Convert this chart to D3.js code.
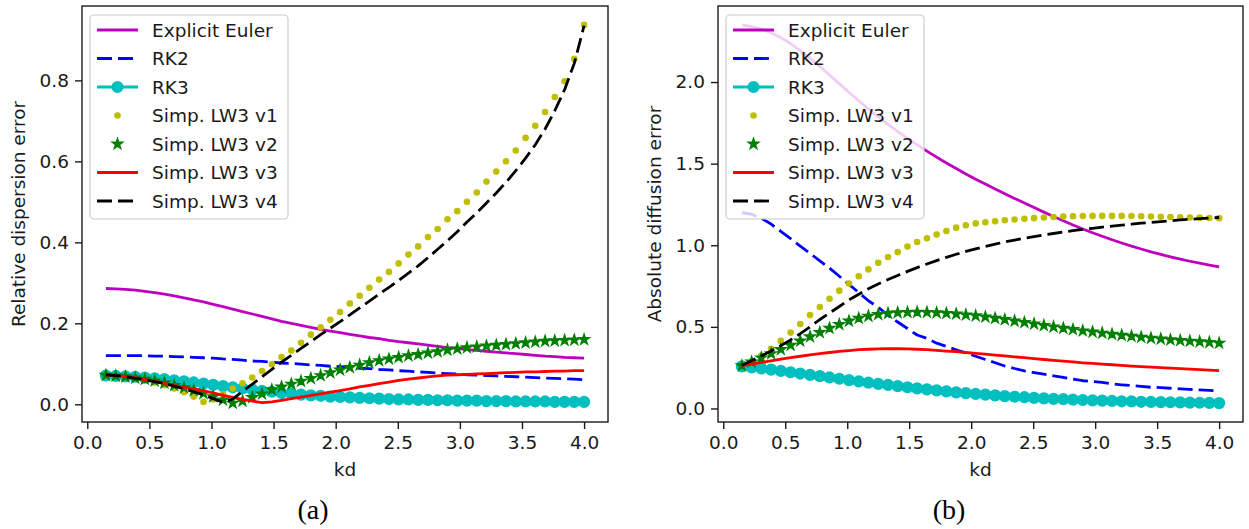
<!DOCTYPE html>
<html><head><meta charset="utf-8">
<script src="https://cdn.jsdelivr.net/npm/d3@7"></script>
<style>
body{margin:0;background:#fff}
svg{display:block}
text{font-family:"DejaVu Sans",sans-serif;}
</style>
</head><body>
<svg id="chart" width="1249" height="529"></svg>
<script>
// ---------------- DATA ----------------
const kd = [0.150,0.229,0.307,0.386,0.464,0.543,0.621,0.700,0.779,0.857,0.936,1.014,1.093,1.171,1.250,1.329,1.407,1.486,1.564,1.643,1.721,1.800,1.879,1.957,2.036,2.114,2.193,2.271,2.350,2.429,2.507,2.586,2.664,2.743,2.821,2.900,2.979,3.057,3.136,3.214,3.293,3.371,3.450,3.529,3.607,3.686,3.764,3.843,3.921,4.000];

const seriesNames = ["Explicit Euler","RK2","RK3","Simp. LW3 v1","Simp. LW3 v2","Simp. LW3 v3","Simp. LW3 v4"];

// (a) relative dispersion error
const eulerDisp = [0.286,0.285,0.284,0.282,0.279,0.276,0.272,0.268,0.263,0.258,0.253,0.247,0.241,0.235,0.229,0.223,0.217,0.211,0.205,0.200,0.195,0.190,0.185,0.181,0.177,0.173,0.169,0.165,0.162,0.158,0.155,0.152,0.149,0.146,0.143,0.140,0.138,0.135,0.133,0.131,0.129,0.127,0.125,0.123,0.121,0.119,0.118,0.116,0.115,0.114];
const rk2Disp = [0.120,0.120,0.120,0.120,0.120,0.119,0.119,0.118,0.117,0.116,0.115,0.114,0.112,0.111,0.109,0.107,0.106,0.104,0.102,0.101,0.099,0.097,0.096,0.094,0.093,0.091,0.089,0.088,0.086,0.085,0.083,0.082,0.080,0.079,0.077,0.076,0.075,0.073,0.072,0.071,0.070,0.069,0.068,0.067,0.066,0.065,0.064,0.063,0.062,0.061];
const rk3Disp = [0.071,0.070,0.069,0.068,0.066,0.064,0.062,0.059,0.057,0.054,0.051,0.048,0.045,0.042,0.039,0.036,0.033,0.031,0.028,0.026,0.024,0.022,0.021,0.019,0.018,0.017,0.016,0.015,0.014,0.013,0.012,0.012,0.011,0.011,0.010,0.010,0.009,0.009,0.009,0.008,0.008,0.008,0.007,0.007,0.007,0.007,0.006,0.006,0.006,0.006];
const v1Disp = [0.072,0.070,0.067,0.063,0.059,0.054,0.047,0.039,0.030,0.019,0.006,0.012,0.025,0.039,0.052,0.066,0.082,0.099,0.117,0.133,0.152,0.172,0.190,0.209,0.228,0.249,0.268,0.288,0.308,0.327,0.348,0.370,0.390,0.413,0.433,0.457,0.477,0.500,0.523,0.550,0.575,0.600,0.627,0.658,0.688,0.722,0.759,0.798,0.853,0.937];
const v2Disp = [0.072,0.070,0.068,0.065,0.062,0.058,0.053,0.047,0.041,0.034,0.027,0.019,0.011,0.003,0.008,0.017,0.026,0.036,0.043,0.050,0.057,0.064,0.071,0.078,0.085,0.091,0.097,0.103,0.108,0.112,0.116,0.120,0.123,0.127,0.130,0.134,0.137,0.140,0.142,0.144,0.146,0.148,0.150,0.152,0.154,0.156,0.157,0.158,0.159,0.160];
const v3Disp = [0.072,0.071,0.069,0.066,0.061,0.057,0.052,0.047,0.042,0.038,0.033,0.028,0.022,0.017,0.012,0.008,0.004,0.006,0.010,0.014,0.018,0.022,0.026,0.030,0.034,0.038,0.043,0.047,0.051,0.055,0.059,0.062,0.065,0.068,0.070,0.072,0.073,0.074,0.075,0.076,0.077,0.078,0.079,0.080,0.080,0.081,0.082,0.082,0.083,0.083];
const v4Disp = [0.073,0.071,0.068,0.064,0.060,0.056,0.051,0.045,0.038,0.031,0.023,0.014,0.005,0.013,0.032,0.050,0.068,0.086,0.104,0.121,0.138,0.155,0.172,0.188,0.204,0.221,0.238,0.255,0.272,0.289,0.306,0.324,0.342,0.362,0.383,0.404,0.426,0.450,0.473,0.497,0.522,0.548,0.577,0.608,0.641,0.680,0.725,0.777,0.842,0.935];

// (b) absolute diffusion error
const eulerDiff = [2.350,2.340,2.325,2.302,2.272,2.235,2.192,2.145,2.095,2.043,1.990,1.937,1.885,1.835,1.787,1.741,1.697,1.655,1.615,1.577,1.540,1.504,1.470,1.437,1.405,1.375,1.345,1.316,1.287,1.259,1.231,1.203,1.176,1.150,1.124,1.100,1.077,1.055,1.034,1.014,0.995,0.977,0.960,0.944,0.929,0.915,0.902,0.890,0.879,0.868];
const rk2Diff = [1.20,1.19,1.165,1.13,1.085,1.04,0.995,0.95,0.905,0.86,0.81,0.76,0.71,0.66,0.62,0.57,0.53,0.49,0.45,0.43,0.40,0.38,0.36,0.34,0.32,0.30,0.28,0.26,0.245,0.23,0.22,0.21,0.20,0.19,0.18,0.17,0.165,0.16,0.15,0.145,0.14,0.135,0.13,0.128,0.124,0.12,0.117,0.114,0.111,0.108];
const rk3Diff = [0.258,0.252,0.245,0.238,0.230,0.222,0.214,0.206,0.198,0.190,0.182,0.174,0.166,0.158,0.151,0.144,0.137,0.130,0.123,0.117,0.111,0.105,0.099,0.094,0.089,0.085,0.080,0.076,0.072,0.069,0.065,0.062,0.059,0.057,0.054,0.052,0.050,0.048,0.046,0.044,0.043,0.041,0.040,0.039,0.038,0.037,0.036,0.035,0.034,0.033];
const v1Diff = [0.262,0.290,0.325,0.366,0.414,0.465,0.518,0.572,0.622,0.672,0.722,0.766,0.810,0.852,0.893,0.928,0.958,0.992,1.020,1.043,1.066,1.087,1.108,1.122,1.134,1.141,1.147,1.153,1.158,1.162,1.166,1.170,1.173,1.176,1.178,1.179,1.180,1.180,1.180,1.180,1.179,1.178,1.176,1.175,1.173,1.172,1.170,1.169,1.167,1.166];
const v2Diff = [0.262,0.285,0.310,0.336,0.362,0.388,0.414,0.440,0.466,0.492,0.515,0.536,0.553,0.566,0.576,0.583,0.587,0.589,0.590,0.589,0.587,0.583,0.579,0.574,0.568,0.561,0.553,0.545,0.536,0.527,0.518,0.509,0.500,0.492,0.484,0.476,0.469,0.462,0.455,0.449,0.443,0.437,0.431,0.426,0.421,0.417,0.413,0.409,0.405,0.401];
const v3Diff = [0.262,0.272,0.282,0.292,0.302,0.311,0.320,0.328,0.336,0.343,0.350,0.355,0.360,0.363,0.365,0.366,0.366,0.365,0.363,0.360,0.356,0.352,0.348,0.343,0.338,0.333,0.327,0.322,0.316,0.311,0.305,0.300,0.295,0.290,0.285,0.280,0.276,0.272,0.268,0.264,0.260,0.256,0.253,0.250,0.247,0.244,0.241,0.238,0.235,0.232];
const v4Diff = [0.265,0.293,0.322,0.352,0.385,0.420,0.458,0.500,0.545,0.585,0.625,0.665,0.700,0.733,0.763,0.790,0.815,0.840,0.863,0.885,0.906,0.926,0.945,0.962,0.978,0.993,1.007,1.020,1.032,1.043,1.053,1.063,1.072,1.081,1.089,1.097,1.104,1.111,1.117,1.123,1.129,1.135,1.140,1.145,1.150,1.155,1.159,1.163,1.167,1.170];

const xTicks = [0.0,0.5,1.0,1.5,2.0,2.5,3.0,3.5,4.0];
const yTicksDisp = [0.0,0.2,0.4,0.6,0.8];
const yTicksDiff = [0.0,0.5,1.0,1.5,2.0];
const xLabel = "kd";
const yLabelDisp = "Relative dispersion error";
const yLabelDiff = "Absolute diffusion error";
const captions = ["(a)","(b)"];

// ---------------- STYLE ----------------
const styles = [
  {color:"#bf00bf", line:true,  dash:null,   marker:null},
  {color:"#0000ff", line:true,  dash:"15,6", marker:null},
  {color:"#00bfbf", line:true,  dash:null,   marker:"o"},
  {color:"#bfbf00", line:false, dash:null,   marker:"."},
  {color:"#008000", line:false, dash:null,   marker:"*"},
  {color:"#ff0000", line:true,  dash:null,   marker:null},
  {color:"#000000", line:true,  dash:"15,6", marker:null}
];
const FONT = 18.5;
const LW = 2.8;
const TXT = "#1a1a1a";

const svg = d3.select("#chart");
const defs = svg.append("defs");

function drawMarker(sel, type, color, x, y) {
  if (type === "o") {
    sel.append("circle").attr("cx", x).attr("cy", y).attr("r", 5.3)
      .attr("fill", color).attr("stroke", color).attr("stroke-width", 1.6);
  } else if (type === ".") {
    sel.append("circle").attr("cx", x).attr("cy", y).attr("r", 2.7)
      .attr("fill", color).attr("stroke", color).attr("stroke-width", 1.2);
  } else if (type === "*") {
    sel.append("path").attr("d", d3.symbol(d3.symbolStar, 32)())
      .attr("transform", `translate(${x},${y})`)
      .attr("fill", color).attr("stroke", color).attr("stroke-width", 1.5)
      .attr("stroke-linejoin", "miter");
  }
}

function panel(id, frame, seriesValues, yTicks, yLabel, caption) {
  const g = svg.append("g");
  const allY = seriesValues.flat();
  const xmin = d3.min(kd), xmax = d3.max(kd);
  const ymin = d3.min(allY), ymax = d3.max(allY);
  const mx = (xmax - xmin) * 0.05, my = (ymax - ymin) * 0.05;
  const x = d3.scaleLinear().domain([xmin - mx, xmax + mx]).range([frame.x0, frame.x1]);
  const y = d3.scaleLinear().domain([ymin - my, ymax + my]).range([frame.y1, frame.y0]);

  defs.append("clipPath").attr("id", "clip" + id).append("rect")
    .attr("x", frame.x0).attr("y", frame.y0)
    .attr("width", frame.x1 - frame.x0).attr("height", frame.y1 - frame.y0);

  const plot = g.append("g").attr("clip-path", `url(#clip${id})`);
  const line = d3.line().x((d, i) => x(kd[i])).y(d => y(d));

  seriesValues.forEach((vals, si) => {
    const st = styles[si];
    if (st.line) {
      plot.append("path").attr("d", line(vals)).attr("fill", "none")
        .attr("stroke", st.color).attr("stroke-width", LW)
        .attr("stroke-dasharray", st.dash)
        .attr("stroke-linejoin", "round");
    }
    if (st.marker) {
      const mg = plot.append("g");
      vals.forEach((v, i) => drawMarker(mg, st.marker, st.color, x(kd[i]), y(v)));
    }
  });

  // axes
  const xa = g.append("g").attr("transform", `translate(0,${frame.y1})`)
    .call(d3.axisBottom(x).tickValues(xTicks).tickFormat(d3.format(".1f")).tickSize(7).tickPadding(6));
  const ya = g.append("g").attr("transform", `translate(${frame.x0},0)`)
    .call(d3.axisLeft(y).tickValues(yTicks).tickFormat(d3.format(".1f")).tickSize(7).tickPadding(6));
  [xa, ya].forEach(a => {
    a.select(".domain").remove();
    a.selectAll(".tick line").attr("stroke", TXT).attr("stroke-width", 1.4);
    a.selectAll(".tick text").attr("fill", TXT).style("font-size", FONT + "px")
      .style("font-family", '"DejaVu Sans",sans-serif');
  });
  xa.selectAll(".tick text").attr("dy", "0.78em");

  // frame
  g.append("rect").attr("x", frame.x0).attr("y", frame.y0)
    .attr("width", frame.x1 - frame.x0).attr("height", frame.y1 - frame.y0)
    .attr("fill", "none").attr("stroke", TXT).attr("stroke-width", 1.4);

  // labels
  g.append("text").attr("x", (frame.x0 + frame.x1) / 2).attr("y", 476)
    .attr("text-anchor", "middle").attr("fill", TXT).style("font-size", FONT + "px").text(xLabel);
  g.append("text").attr("transform", `translate(${frame.x0 - 57},${(frame.y0 + frame.y1) / 2}) rotate(-90)`)
    .attr("text-anchor", "middle").attr("fill", TXT).style("font-size", FONT + "px").text(yLabel);
  g.append("text").attr("x", frame.x0 + 231).attr("y", 519)
    .attr("text-anchor", "middle").attr("fill", "#000")
    .style("font-family", '"Liberation Serif","DejaVu Serif",serif').style("font-size", "28px")
    .text(caption);

  // legend
  const lg = g.append("g");
  const bx = frame.x0 + 8, by = 15, bw = 198, bh = 204;
  lg.append("rect").attr("x", bx).attr("y", by).attr("width", bw).attr("height", bh)
    .attr("rx", 4).attr("fill", "#fff").attr("fill-opacity", 0.8)
    .attr("stroke", "#cccccc").attr("stroke-width", 1.2);
  seriesNames.forEach((name, si) => {
    const st = styles[si];
    const cy = 30 + si * 28.5;
    const hx0 = frame.x0 + 15, hx1 = frame.x0 + 56;
    if (st.line) {
      lg.append("line").attr("x1", hx0).attr("x2", hx1).attr("y1", cy).attr("y2", cy)
        .attr("stroke", st.color).attr("stroke-width", LW).attr("stroke-dasharray", st.dash);
    }
    if (st.marker) drawMarker(lg, st.marker, st.color, (hx0 + hx1) / 2, cy);
    lg.append("text").attr("x", frame.x0 + 70).attr("y", cy + 6.5).attr("fill", TXT)
      .style("font-size", FONT + "px").text(name);
  });
}

panel("a", {x0: 82, x1: 608, y0: 6, y1: 422},
  [eulerDisp, rk2Disp, rk3Disp, v1Disp, v2Disp, v3Disp, v4Disp],
  yTicksDisp, yLabelDisp, captions[0]);
panel("b", {x0: 718, x1: 1243, y0: 6, y1: 422},
  [eulerDiff, rk2Diff, rk3Diff, v1Diff, v2Diff, v3Diff, v4Diff],
  yTicksDiff, yLabelDiff, captions[1]);
</script>
</body></html>
